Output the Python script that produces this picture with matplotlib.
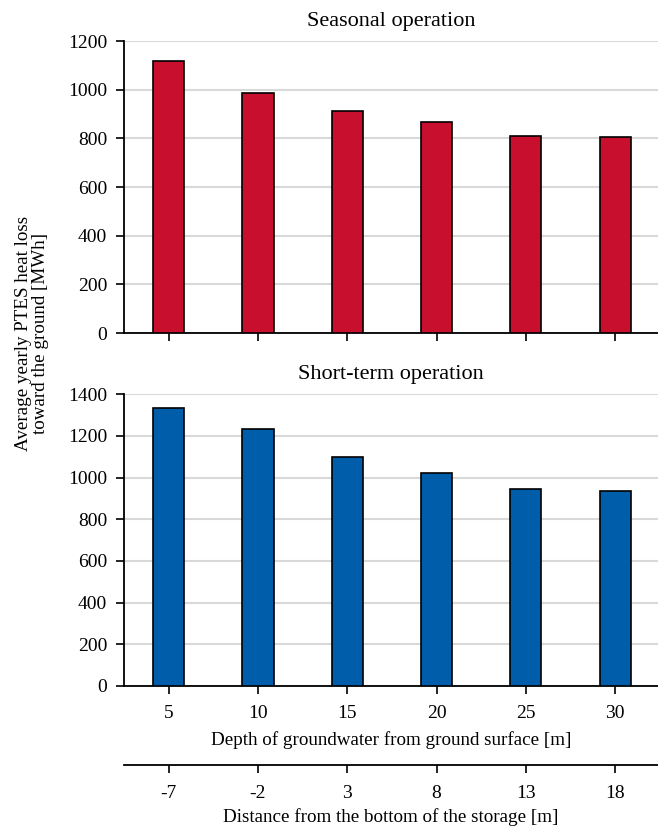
import matplotlib
matplotlib.use('Agg')
import matplotlib.pyplot as plt
import numpy as np

plt.rcParams['font.family'] = 'Liberation Serif'
plt.rcParams['font.size'] = 14

# groundwater depth and distance from storage bottom
depth = [5, 10, 15, 20, 25, 30]
distance = [-7, -2, 3, 8, 13, 18]

# average yearly heat loss toward the ground [MWh]
seasonal = [1119, 986, 911, 867, 808, 804]
short_term = [1334, 1235, 1100, 1021, 947, 934]

red = '#C8102E'
blue = '#005DAA'

fig = plt.figure(figsize=(6.58, 8.27), dpi=100)
ax1 = fig.add_axes([0.1884, 0.5973, 0.8116, 0.3531])
ax2 = fig.add_axes([0.1884, 0.1705, 0.8116, 0.3527])

x = np.arange(len(depth))

def style(ax, vals, color, top, title):
    ax.bar(x, vals, width=0.35, color=color, edgecolor='black', linewidth=1.2, zorder=3)
    ax.set_xlim(-0.5, 5.48)
    ax.set_ylim(0, top)
    ax.set_yticks(np.arange(0, top + 1, 200))
    ax.yaxis.grid(True, color='#d9d9d9', linewidth=1.5, zorder=0)
    ax.set_axisbelow(True)
    for s in ['top', 'right']:
        ax.spines[s].set_visible(False)
    for s in ['left', 'bottom']:
        ax.spines[s].set_linewidth(1.3)
    ax.tick_params(axis='both', direction='out', length=6, width=1.2, labelsize=14)
    ax.tick_params(axis='x', pad=8)
    ax.tick_params(axis='y', pad=6)
    ax.set_xticks(x)
    ax.set_title(title, fontsize=16, pad=11)

style(ax1, seasonal, red, 1200, 'Seasonal operation')
style(ax2, short_term, blue, 1400, 'Short-term operation')

ax1.set_xticklabels([])
ax2.set_xticklabels([str(d) for d in depth])
ax2.set_xlabel('Depth of groundwater from ground surface [m]', fontsize=13.7, labelpad=6)

# second axis for distance from the bottom of the storage
ax3 = ax2.twiny()
ax3.set_xlim(ax2.get_xlim())
ax3.xaxis.set_ticks_position('bottom')
ax3.xaxis.set_label_position('bottom')
ax3.spines['bottom'].set_position(('outward', 57))
for s in ['top', 'right', 'left']:
    ax3.spines[s].set_visible(False)
ax3.spines['bottom'].set_linewidth(1.3)
ax3.set_xticks(x)
ax3.set_xticklabels([str(d) for d in distance])
ax3.tick_params(axis='x', direction='out', length=6, width=1.2, labelsize=14, pad=8)
ax3.set_xlabel('Distance from the bottom of the storage [m]', fontsize=13.7, labelpad=4.5)

fig.text(0.049, 0.597, 'Average yearly PTES heat loss\ntoward the ground [MWh]',
         rotation=90, ha='center', va='center', fontsize=13.7, linespacing=1.0)

fig.savefig('out.png', dpi=100)
